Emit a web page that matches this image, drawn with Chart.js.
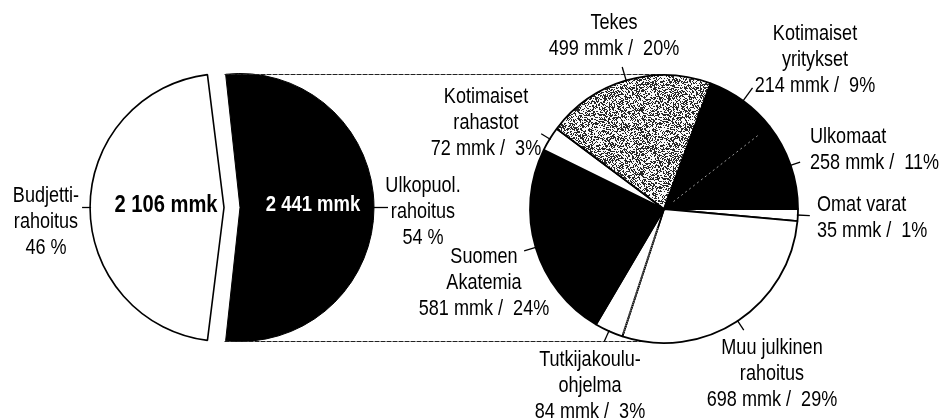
<!DOCTYPE html>
<html>
<head>
<meta charset="utf-8">
<script src="https://cdn.jsdelivr.net/npm/chart.js@4.4.0/dist/chart.umd.min.js"></script>
<style>
  body { margin: 0; background: #fff; }
  #wrap { position: relative; width: 942px; height: 419px; }
  canvas { position: absolute; left: 0; top: 0; }
</style>
</head>
<body>
<div id="wrap">
  <canvas id="leftPie" width="942" height="419"></canvas>
  <canvas id="rightPie" width="942" height="419"></canvas>
</div>
<script>
// budjetti vs ulkopuolinen rahoitus
const splitLabels = [["Budjetti-", "rahoitus", "46 %"], ["Ulkopuol.", "rahoitus", "54 %"]];
const splitValues = [2106, 2441];
const splitText = ["2 106 mmk", "2 441 mmk"];

// ulkopuolisen rahoituksen lähteet (clockwise from 3 o'clock)
const sourceNames = [["Omat varat"], ["Muu julkinen", "rahoitus"], ["Tutkijakoulu-", "ohjelma"],
  ["Suomen", "Akatemia"], ["Kotimaiset", "rahastot"], ["Tekes"], ["Kotimaiset", "yritykset"], ["Ulkomaat"]];
const sourceValues = [35, 698, 84, 581, 72, 499, 214, 258];
const sourcePercents = [1, 29, 3, 24, 3, 20, 9, 11];

// label placement (layout only)
const splitLabelPos = [
  { x: 46, y: 196, align: "center", lead: 8 },
  { x: 423, y: 186, align: "center", lead: 14 }
];
const splitTextPos = [{ x: 166, y: 205, size: 24 }, { x: 313, y: 205, size: 22 }];
const sourceLabelPos = [
  { x: 817, y: 205, align: "left", lead: 12 },
  { x: 772, y: 348, align: "center", lead: 11 },
  { x: 590, y: 360, align: "center", lead: 11 },
  { x: 484, y: 257, align: "center", lead: 12 },
  { x: 486, y: 97, align: "center", lead: 10 },
  { x: 614, y: 23, align: "center", lead: 14 },
  { x: 815, y: 34, align: "center", lead: 16 },
  { x: 810, y: 137, align: "left", lead: 10 }
];

// narrow look: Liberation Sans squeezed horizontally
const FONT_FAMILY = "'Liberation Sans', Arial, sans-serif";
const LABEL_FONT = "21.5px " + FONT_FAMILY;
const SQUEEZE = 0.84;
const LINE_GAP = 26;

function drawText(ctx, t, x, y, align) {
  ctx.save();
  ctx.translate(x, y);
  ctx.scale(SQUEEZE, 1);
  ctx.textAlign = align;
  ctx.textBaseline = "middle";
  ctx.fillText(t, 0, 0);
  ctx.restore();
}

// visible geometry of an arc, incl. chart.js offset translate / growth
function arcShape(el) {
  const o = (el.options.offset || 0) / 4;
  const mid = (el.startAngle + el.endAngle) / 2;
  const fix = 1 - Math.sin(Math.min(Math.PI, el.circumference || 0));
  return {
    x: el.x + Math.cos(mid) * o,
    y: el.y + Math.sin(mid) * o,
    r: el.outerRadius + o * fix,
    mid: mid,
    start: el.startAngle,
    end: el.endAngle
  };
}

// gray stipple for Tekes
function stipple() {
  const size = 64;
  const c = document.createElement("canvas");
  c.width = size;
  c.height = size;
  const g = c.getContext("2d");
  const img = g.createImageData(size, size);
  for (let y = 0; y < size; y++) {
    for (let x = 0; x < size; x++) {
      let h = (Math.imul(x, 374761393) + Math.imul(y, 668265263)) >>> 0;
      h = Math.imul(h ^ (h >>> 13), 1274126177) >>> 0;
      h = (h ^ (h >>> 16)) >>> 0;
      const v = (h % 1000) < 440 ? 40 : 250;
      const k = (y * size + x) * 4;
      img.data[k] = v;
      img.data[k + 1] = v;
      img.data[k + 2] = v;
      img.data[k + 3] = 255;
    }
  }
  g.putImageData(img, 0, 0);
  return g.createPattern(c, "repeat");
}

function labelPlugin(lines, pos) {
  return {
    id: "sliceLabels",
    afterDraw(chart) {
      const ctx = chart.ctx;
      const arcs = chart.getDatasetMeta(0).data;
      ctx.save();
      ctx.strokeStyle = "#000";
      ctx.fillStyle = "#000";
      ctx.lineWidth = 1.3;
      ctx.font = LABEL_FONT;
      arcs.forEach((el, i) => {
        const a = arcShape(el);
        ctx.beginPath();
        ctx.moveTo(a.x + Math.cos(a.mid) * (a.r - 1), a.y + Math.sin(a.mid) * (a.r - 1));
        ctx.lineTo(a.x + Math.cos(a.mid) * (a.r + pos[i].lead), a.y + Math.sin(a.mid) * (a.r + pos[i].lead));
        ctx.stroke();
        lines[i].forEach((t, j) => {
          drawText(ctx, t, pos[i].x, pos[i].y + j * LINE_GAP, pos[i].align);
        });
      });
      ctx.restore();
    }
  };
}

// amounts inside the left pie
const splitValuePlugin = {
  id: "splitValues",
  afterDraw(chart) {
    const ctx = chart.ctx;
    ctx.save();
    splitText.forEach((t, i) => {
      ctx.font = "bold " + splitTextPos[i].size + "px " + FONT_FAMILY;
      ctx.fillStyle = i == 0 ? "#000" : "#fff";
      drawText(ctx, t, splitTextPos[i].x, splitTextPos[i].y, "center");
    });
    ctx.restore();
  }
};

// lines from the black half to the right pie + faint inner boundaries
const connectorPlugin = {
  id: "connectors",
  beforeDatasetsDraw(chart) {
    const left = Chart.getChart("leftPie");
    if (!left) return;
    const b = arcShape(left.getDatasetMeta(0).data[1]);
    const p = chart.getDatasetMeta(0).data[0];
    const ctx = chart.ctx;
    ctx.save();
    ctx.strokeStyle = "#222";
    ctx.lineWidth = 1.2;
    ctx.setLineDash([5, 1]);
    [b.start, b.end].forEach((ang) => {
      const x0 = b.x + Math.cos(ang) * b.r;
      const y0 = Math.round(b.y + Math.sin(ang) * b.r) + 0.5;
      ctx.beginPath();
      ctx.moveTo(x0, y0);
      ctx.lineTo(p.x, y0);
      ctx.stroke();
    });
    ctx.restore();
  },
  afterDatasetsDraw(chart) {
    const arcs = chart.getDatasetMeta(0).data;
    const ctx = chart.ctx;
    const c = arcs[0];
    ctx.save();
    // yritykset | ulkomaat
    let ang = arcs[6].endAngle;
    ctx.strokeStyle = "rgba(255,255,255,0.6)";
    ctx.lineWidth = 1;
    ctx.setLineDash([2, 3]);
    ctx.beginPath();
    ctx.moveTo(c.x + Math.cos(ang) * 12, c.y + Math.sin(ang) * 12);
    ctx.lineTo(c.x + Math.cos(ang) * c.outerRadius * 0.9, c.y + Math.sin(ang) * c.outerRadius * 0.9);
    ctx.stroke();
    // muu julkinen | tutkijakoulu
    ang = arcs[1].endAngle;
    ctx.strokeStyle = "#777";
    ctx.lineWidth = 2;
    ctx.setLineDash([1, 1]);
    ctx.beginPath();
    ctx.moveTo(c.x + Math.cos(ang) * 20, c.y + Math.sin(ang) * 20);
    ctx.lineTo(c.x + Math.cos(ang) * (c.outerRadius - 2), c.y + Math.sin(ang) * (c.outerRadius - 2));
    ctx.stroke();
    ctx.restore();
  }
};

const splitTotal = splitValues.reduce((a, b) => a + b, 0);
// white half centered on 9 o'clock
const leftRotation = 270 - (splitValues[0] / splitTotal) * 180;

new Chart(document.getElementById("leftPie"), {
  type: "pie",
  data: {
    labels: splitLabels.map((l) => l.join(" ")),
    datasets: [{
      data: splitValues,
      backgroundColor: ["#fff", "#000"],
      borderColor: "#000",
      borderWidth: [1.6, 1],
      offset: [36, 28]
    }]
  },
  options: {
    responsive: false,
    animation: false,
    events: [],
    rotation: leftRotation,
    radius: 127,
    layout: { padding: { left: 83, right: 559, top: 57.5, bottom: 61.5 } },
    plugins: { legend: { display: false }, tooltip: { enabled: false } }
  },
  plugins: [labelPlugin(splitLabels, splitLabelPos), splitValuePlugin]
});

const tekesFill = stipple();
const sourceColors = ["#fff", "#fff", "#fff", "#000", "#fff", tekesFill, "#000", "#000"];
const sourceLines = sourceNames.map((n, i) => n.concat([sourceValues[i] + " mmk /  " + sourcePercents[i] + "%"]));

new Chart(document.getElementById("rightPie"), {
  type: "pie",
  data: {
    labels: sourceNames.map((n) => n.join(" ")),
    datasets: [{
      data: sourceValues,
      backgroundColor: sourceColors,
      borderColor: "#000",
      borderWidth: 1.8
    }]
  },
  options: {
    responsive: false,
    animation: false,
    events: [],
    rotation: 90,
    radius: 134,
    layout: { padding: { left: 514, right: 128, top: 59, bottom: 60 } },
    plugins: { legend: { display: false }, tooltip: { enabled: false } }
  },
  plugins: [connectorPlugin, labelPlugin(sourceLines, sourceLabelPos)]
});
</script>
</body>
</html>
